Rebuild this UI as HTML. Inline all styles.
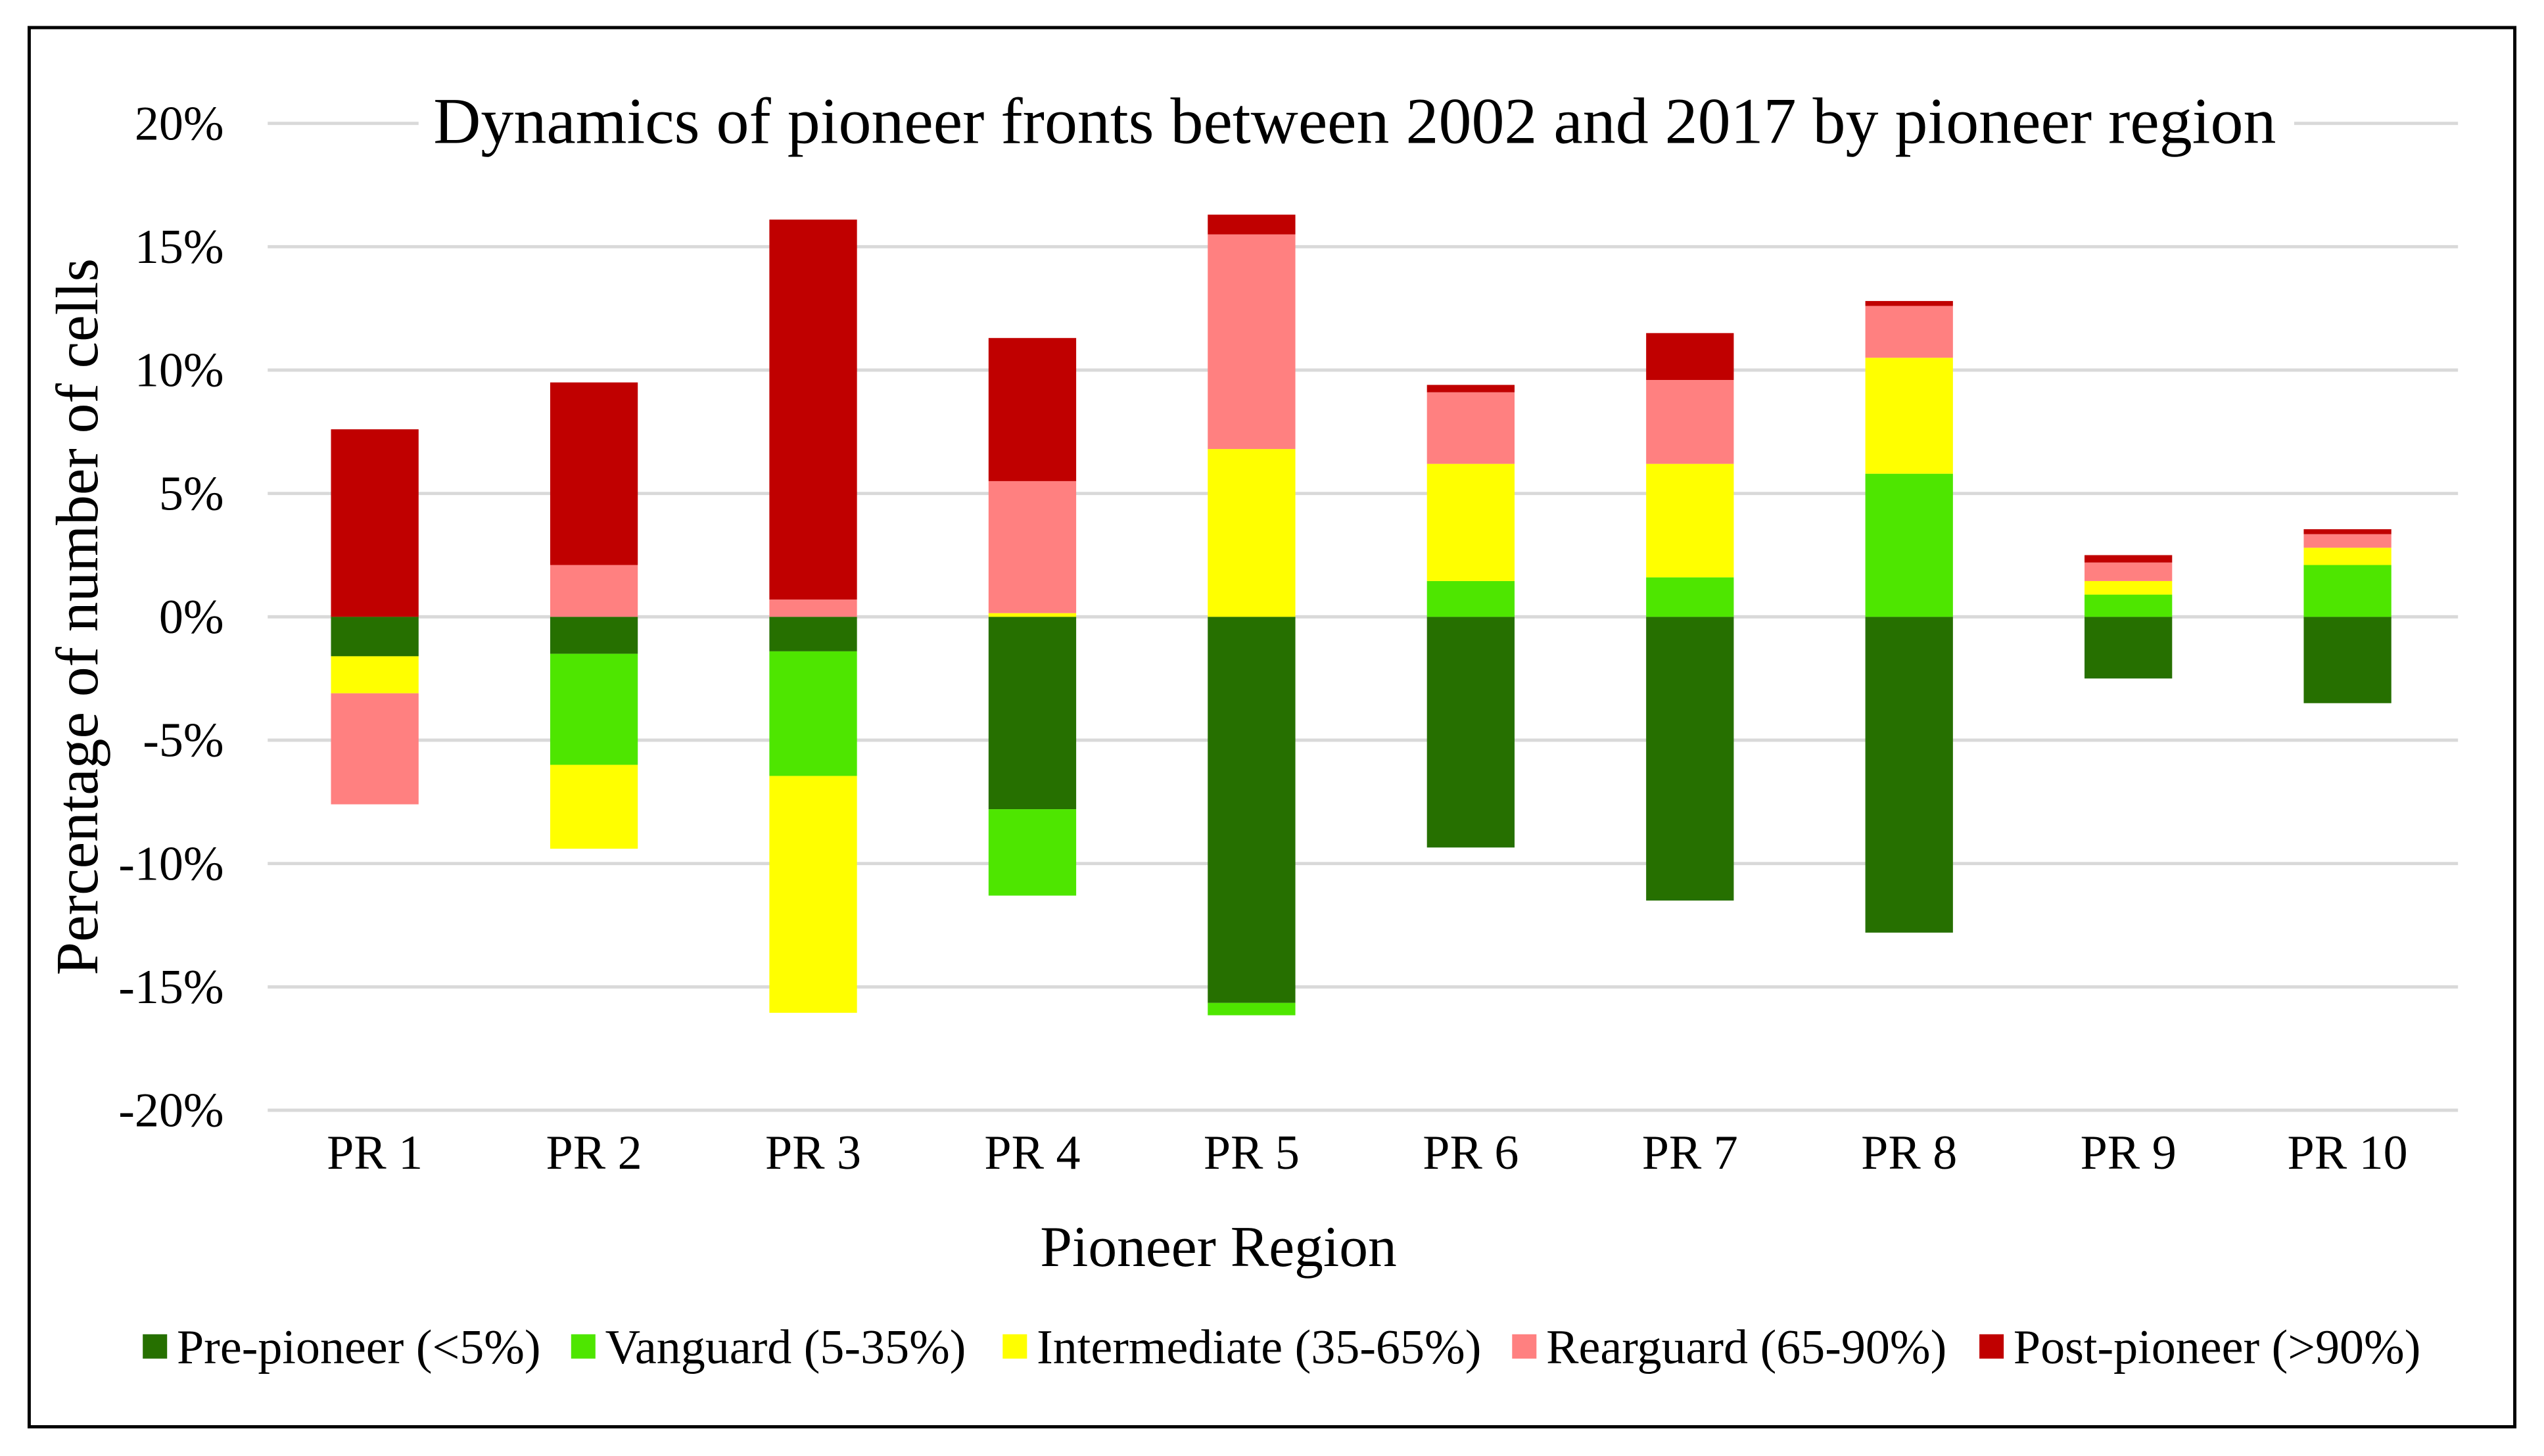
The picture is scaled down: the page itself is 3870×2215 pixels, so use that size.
<!DOCTYPE html>
<html><head><meta charset="utf-8"><style>
html,body{margin:0;padding:0;background:#fff}
svg{display:block}
svg text{font-family:"Liberation Serif","DejaVu Serif",serif !important;fill:#000}
</style></head><body>
<svg id="chart" width="3870" height="2215" viewBox="0 0 1568 897" preserveAspectRatio="none" font-family="Liberation Serif, serif" xmlns="http://www.w3.org/2000/svg">
<rect x="18" y="17" width="1532" height="862" fill="#fff" stroke="#000" stroke-width="2"/>
<g id="grid"></g>
<g id="bars"></g>
<g id="ylabels"></g>
<g id="xlabels"></g>
<rect x="258" y="50" width="1156" height="52" fill="#fff"/>
<text x="835" y="88" font-size="40.5" font-family="Liberation Serif, serif" text-anchor="middle">Dynamics of pioneer fronts between 2002 and 2017 by pioneer region</text>
<text x="751" y="780" font-size="35.5" font-family="Liberation Serif, serif" text-anchor="middle">Pioneer Region</text>
<text transform="translate(60,380) rotate(-90)" font-size="37" font-family="Liberation Serif, serif" text-anchor="middle">Percentage of number of cells</text>
<g id="legend"></g>
</svg>
<script>
const categories=["PR 1","PR 2","PR 3","PR 4","PR 5","PR 6","PR 7","PR 8","PR 9","PR 10"];
const seriesNames=["Pre-pioneer (<5%)","Vanguard (5-35%)","Intermediate (35-65%)","Rearguard (65-90%)","Post-pioneer (>90%)"];
const seriesColors=["#267000","#4ee600","#ffff00","#ff8080","#c00000"];
const prePioneer=[-1.6,-1.5,-1.4,-7.8,-15.65,-9.35,-11.5,-12.8,-2.5,-3.5];
const vanguard=[0,-4.5,-5.05,-3.5,-0.5,1.45,1.6,5.8,0.9,2.1];
const intermediate=[-1.5,-3.4,-9.6,0.15,6.8,4.75,4.6,4.7,0.55,0.7];
const rearguard=[-4.5,2.1,0.7,5.35,8.7,2.9,3.4,2.1,0.75,0.55];
const postPioneer=[7.6,7.4,15.4,5.8,0.8,0.3,1.9,0.2,0.3,0.2];
const yTicks=[-20,-15,-10,-5,0,5,10,15,20];
const series=[prePioneer,vanguard,intermediate,rearguard,postPioneer];
const NS="http://www.w3.org/2000/svg";
const FF="Liberation Serif, serif";
const y=v=>380-v*15.2;
const x=i=>231+i*135.1;
function mk(tag,attrs,parent){const e=document.createElementNS(NS,tag);for(const k in attrs)e.setAttribute(k,attrs[k]);parent.appendChild(e);return e;}
const grid=document.getElementById('grid'),yl=document.getElementById('ylabels');
yTicks.forEach(t=>{
  const l=mk('line',{x1:165,x2:1515,y1:y(t),y2:y(t),stroke:'#d9d9d9','stroke-width':2},grid);
  
  
  const tx=mk('text',{x:138,y:y(t)+10,'font-size':30,'font-family':FF,'text-anchor':'end'},yl);
  tx.textContent=t+'%';
  
  
});
const bars=document.getElementById('bars'),xl=document.getElementById('xlabels');
const bw=54;
categories.forEach((c,i)=>{
  let pos=0,neg=0;
  series.forEach((s,k)=>{
    const v=s[i];if(!v)return;
    let a,b;
    if(v>0){a=pos;b=pos+v;pos=b;}else{a=neg;b=neg+v;neg=b;}
    const r=mk('rect',{x:x(i)-bw/2,y:Math.min(y(a),y(b)),width:bw,height:Math.abs(y(a)-y(b)),fill:seriesColors[k]},bars);
    
    
  });
  const tx=mk('text',{x:x(i),y:720,'font-size':30,'font-family':FF,'text-anchor':'middle'},xl);
  tx.textContent=c;
  
  
});
const lg=document.getElementById('legend');
const lx=[88,352,618,932,1220];
seriesNames.forEach((n,k)=>{
  const r=mk('rect',{x:lx[k],y:822,width:15,height:15,fill:seriesColors[k]},lg);
  
  
  const t=mk('text',{x:lx[k]+21,y:840,'font-size':30,'font-family':FF},lg);
  t.textContent=n;
  
  
});
</script>
</body></html>
